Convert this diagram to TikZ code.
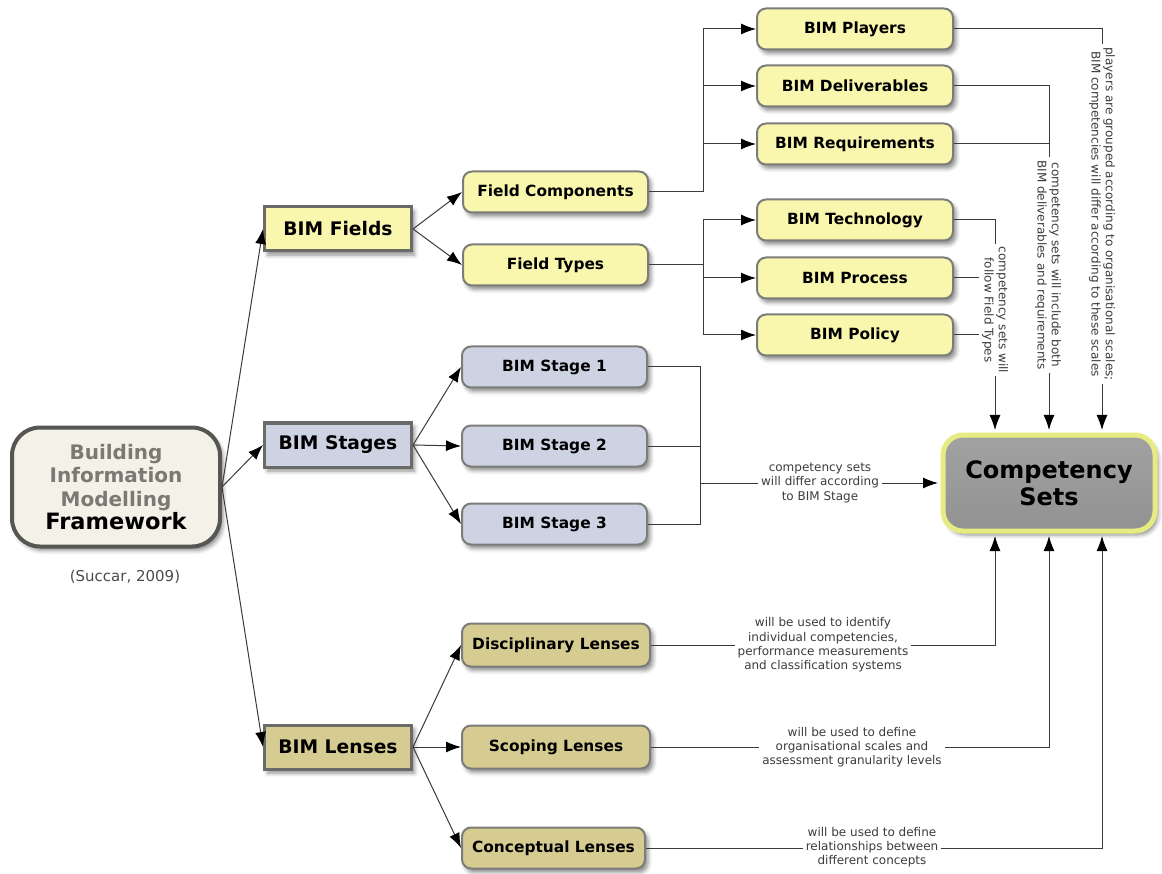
\documentclass[tikz,border=0pt]{standalone}
\usepackage{fontspec}
\setmainfont{DejaVu Sans}
\usetikzlibrary{arrows.meta,shadows.blur,calc}

\definecolor{fwFill}{HTML}{F3F1E8}
\definecolor{fwBorder}{HTML}{565652}
\definecolor{fwText}{HTML}{7A7A72}
\definecolor{fieldFill}{HTML}{F9F6AE}
\definecolor{stageFill}{HTML}{CDD3E2}
\definecolor{lensFill}{HTML}{D6CC92}
\definecolor{mainBorder}{HTML}{6A6A66}
\definecolor{subBorder}{HTML}{7C7C78}
\definecolor{compTop}{HTML}{A2A2A2}
\definecolor{compBottom}{HTML}{929292}
\definecolor{compBorder}{HTML}{E6EC82}
\definecolor{linkGray}{HTML}{3A3A3A}
\definecolor{noteGray}{HTML}{3C3C3C}

\tikzset{
  boxshadow/.style={blur shadow={shadow xshift=3pt, shadow yshift=-4pt,
      shadow blur radius=4pt, shadow opacity=45}},
  framebox/.style={rounded corners=28pt, fill=fwFill, draw=fwBorder,
      line width=4pt, minimum width=208pt, minimum height=119pt,
      align=center, text=fwText,
      font=\bfseries\fontsize{20}{23.5}\selectfont, boxshadow},
  mainbox/.style={draw=mainBorder, line width=3pt, minimum width=147pt,
      minimum height=44pt, font=\bfseries\fontsize{18.7}{22}\selectfont,
      boxshadow},
  subbox/.style={rounded corners=9pt, draw=subBorder, line width=2pt,
      minimum height=41pt, font=\bfseries\fontsize{15.4}{18}\selectfont,
      boxshadow},
  compbox/.style={rounded corners=20pt, top color=compTop,
      bottom color=compBottom, draw=compBorder, line width=5pt,
      minimum width=212pt, minimum height=96pt, align=center,
      font=\bfseries\fontsize{24}{27}\selectfont, boxshadow},
  link/.style={draw=linkGray, line width=1pt},
  arrow/.style={link, -{Latex[length=15pt,width=11pt,black]}},
  intarget/.style={arrow, shorten >=2.5pt},
  note/.style={fill=white, inner sep=3pt, align=center, text=noteGray,
      font=\fontsize{12}{14.3}\selectfont},
}

\begin{document}
\begin{tikzpicture}[x=1pt,y=1pt]
\useasboundingbox (0,0) rectangle (1162,-874);

% root of the framework
\node[framebox] (fw) at (116,-487)
  {Building\\Information\\Modelling\\
   {\color{black}\fontsize{22.5}{25}\selectfont Framework}};
\node[text=black!70, font=\fontsize{15}{18}\selectfont] (cite) at (125,-577) {(Succar, 2009)};

% first level
\node[mainbox, fill=fieldFill] (fields) at (338,-229) {BIM Fields};
\node[mainbox, fill=stageFill] (stages) at (338,-445) {BIM Stages};
\node[mainbox, fill=lensFill]  (lenses) at (338,-747) {BIM Lenses};

% fields
\node[subbox, fill=fieldFill, minimum width=185pt] (fcomp) at (555.5,-192) {Field Components};
\node[subbox, fill=fieldFill, minimum width=185pt] (ftype) at (555.5,-265) {Field Types};
\node[subbox, fill=fieldFill, minimum width=196pt] (players) at (855,-29)  {BIM Players};
\node[subbox, fill=fieldFill, minimum width=196pt] (deliv)   at (855,-86)  {BIM Deliverables};
\node[subbox, fill=fieldFill, minimum width=196pt] (reqs)    at (855,-144) {BIM Requirements};
\node[subbox, fill=fieldFill, minimum width=196pt] (tech)    at (855,-220) {BIM Technology};
\node[subbox, fill=fieldFill, minimum width=196pt] (proc)    at (855,-278) {BIM Process};
\node[subbox, fill=fieldFill, minimum width=196pt] (policy)  at (855,-335) {BIM Policy};

% stages
\node[subbox, fill=stageFill, minimum width=185pt] (st1) at (554.5,-367) {BIM Stage 1};
\node[subbox, fill=stageFill, minimum width=185pt] (st2) at (554.5,-446) {BIM Stage 2};
\node[subbox, fill=stageFill, minimum width=185pt] (st3) at (554.5,-524) {BIM Stage 3};

% lenses
\node[subbox, fill=lensFill, minimum width=188pt, minimum height=43pt] (disc) at (556,-645) {Disciplinary Lenses};
\node[subbox, fill=lensFill, minimum width=188pt, minimum height=43pt] (scop) at (556,-747) {Scoping Lenses};
\node[subbox, fill=lensFill, minimum width=183pt] (conc) at (553.5,-848) {Conceptual Lenses};

% target
\node[compbox] (comp) at (1049,-483) {Competency\\Sets};

% entry points on the target
\coordinate (inA) at ($(comp.north)+(-54,0)$);
\coordinate (inB) at ($(comp.north)+(0,0)$);
\coordinate (inC) at ($(comp.north)+(53,0)$);
\coordinate (inD) at ($(comp.south)+(-54,0)$);
\coordinate (inE) at ($(comp.south)+(0,0)$);
\coordinate (inF) at ($(comp.south)+(53,0)$);

% junctions
\coordinate (jfc) at (703,-192);
\coordinate (jft) at (703,-265);
\coordinate (jst) at (700,-483);

% root to first level
\draw[arrow] (fw.east) -- (fields.west);
\draw[arrow] (fw.east) -- (stages.west);
\draw[arrow] (fw.east) -- (lenses.west);

% first level to second level
\draw[arrow] (fields.east) -- (fcomp.west);
\draw[arrow] (fields.east) -- (ftype.west);
\draw[arrow] (stages.east) -- (st1.west);
\draw[arrow] (stages.east) -- (st2.west);
\draw[arrow] (stages.east) -- (st3.west);
\draw[arrow] (lenses.east) -- (disc.west);
\draw[arrow] (lenses.east) -- (scop.west);
\draw[arrow] (lenses.east) -- (conc.west);

% field components and types
\draw[link] (fcomp.east) -- (jfc);
\draw[arrow] (jfc) |- (players.west);
\draw[arrow] (jfc) |- (deliv.west);
\draw[arrow] (jfc) |- (reqs.west);
\draw[link] (ftype.east) -- (jft);
\draw[arrow] (jft) |- (tech.west);
\draw[arrow] (jft) |- (proc.west);
\draw[arrow] (jft) |- (policy.west);

% stages into the target
\draw[link] (st1.east) -| (jst);
\draw[link] (st2.east) -| (jst);
\draw[link] (st3.east) -| (jst);
\draw[intarget] (jst) -- (comp.west);

% fields into the target
\draw[intarget] (tech.east) -| (inA);
\draw[link] (proc.east) -- (proc.east -| inA);
\draw[link] (policy.east) -- (policy.east -| inA);
\draw[intarget] (deliv.east) -| (inB);
\draw[link] (reqs.east) -- (reqs.east -| inB);
\draw[intarget] (players.east) -| (inC);

% lenses into the target
\draw[intarget] (disc.east) -| (inD);
\draw[intarget] (scop.east) -| (inE);
\draw[intarget] (conc.east) -| (inF);

% notes on the connectors
\node[note] (nst) at (820,-483) {competency sets\\will differ according\\to BIM Stage};
\node[note] (ndisc) at (823,-645) {will be used to identify\\individual competencies,\\performance measurements\\and classification systems};
\node[note] (nscop) at (852,-747) {will be used to define\\organisational scales and\\assessment granularity levels};
\node[note] (nconc) at (872,-847) {will be used to define\\relationships between\\different concepts};
\node[note, rotate=-90] (ntype) at (995,-310) {competency sets will\\follow Field Types};
\node[note, rotate=-90] (ndel) at (1048,-265) {competency sets will include both\\BIM deliverables and requirements};
\node[note, rotate=-90] (nply) at (1102,-214) {players are grouped according to organisational scales;\\BIM competencies will differ according to these scales};
\end{tikzpicture}
\end{document}
